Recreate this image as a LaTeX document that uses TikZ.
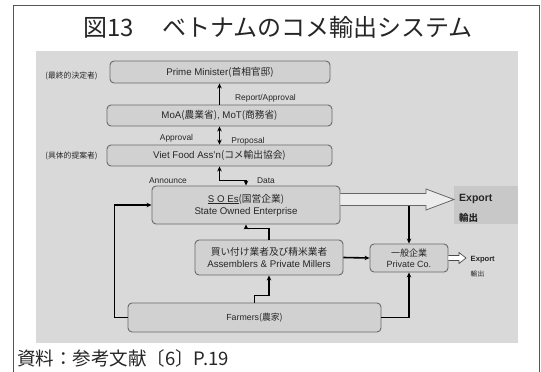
\documentclass[tikz,border=0pt]{standalone}
\usepackage{fontspec}
\setmainfont{Liberation Sans}
\newfontfamily\jp{Noto Sans CJK JP}
\usetikzlibrary{arrows.meta}
\definecolor{panel}{HTML}{D9D9D9}
\definecolor{boxfill}{HTML}{D1D1D1}
\definecolor{boxline}{HTML}{6A6A6A}
\definecolor{expfill}{HTML}{C8C8C8}
\definecolor{txt}{HTML}{262626}
\definecolor{framec}{HTML}{555555}
\tikzset{
  box/.style={draw=boxline, fill=boxfill, rounded corners=4pt, line width=0.9pt,
    inner sep=0pt, align=center, text=txt, font=\fontsize{9.7}{12}\selectfont},
  lbl/.style={inner sep=0pt, text=txt, font=\fontsize{8.4}{9}\selectfont},
  side/.style={inner sep=0pt, text=txt, font=\jp\fontsize{7.8}{9}\selectfont},
  conn/.style={line width=1.6pt, draw=black, -{Stealth[length=5pt,width=4.5pt]}},
  dconn/.style={line width=1.6pt, draw=black, {Stealth[length=5pt,width=4.5pt]}-{Stealth[length=5pt,width=4.5pt]}},
  hollow/.style={draw=gray!80!black, line width=0.8pt, fill=gray!15, line join=miter},
  shollow/.style={draw=black!70, line width=0.7pt, fill=white},
}
\begin{document}
\begin{tikzpicture}[x=1pt,y=-1pt]
\useasboundingbox (0,0) rectangle (541,372);
\fill[white] (0,0) rectangle (541,372);
\draw[framec, line width=1pt] (13,372) -- (13,5) -- (539,5) -- (539,372);
\node[inner sep=0pt, text=txt, font=\jp\fontsize{24}{24}\selectfont] (title) at (278,27) {図13\hspace{4pt}　ベトナムのコメ輸出システム};
\fill[panel] (36,51) rectangle (518,343);

% boxes
\node[box, minimum width=220pt, minimum height=22pt] (pm) at (220,72) {Prime Minister{\jp(首相官邸)}};
\node[box, minimum width=225pt, minimum height=21pt] (moa) at (219.5,115.5) {MoA{\jp(農業省)}, MoT{\jp(商務省)}};
\node[box, minimum width=225pt, minimum height=21pt] (vfa) at (219.5,155.5) {Viet Food Ass'n{\jp(コメ輸出協会)}};
\node[box, minimum width=188pt, minimum height=38pt] (soe) at (246,205) {\underline{S O Es}{\jp(国営企業)}\\State Owned Enterprise};
\node[box, minimum width=148pt, minimum height=35pt] (asm) at (269,257.5) {{\jp 買い付け業者及び精米業者}\\Assemblers \& Private Millers};
\node[box, minimum width=78pt, minimum height=28pt, font=\fontsize{9}{11}\selectfont] (prv) at (409,258) {{\jp 一般企業}\\Private Co.};
\node[box, minimum width=253pt, minimum height=29pt, font=\fontsize{8.8}{11}\selectfont] (fm) at (254.5,317.5) {Farmers{\jp(農家)}};

% side labels
\node[side] (l1) at (71.5,76) {(最終的決定者)};
\node[side] (l2) at (71.5,156) {(具体的提案者)};

% connector labels
\node[lbl] (rep) at (265.5,98.5) {Report/Approval};
\node[lbl] (apr) at (176.5,138) {Approval};
\node[lbl] (pro) at (248,141) {Proposal};
\node[lbl] (ann) at (168,181) {Announce};
\node[lbl] (dat) at (266,181) {Data};

% export box
\node[fill=expfill, minimum width=64pt, minimum height=38pt, inner sep=0pt, anchor=north west] (exb) at (454,186) {};
\node[inner sep=0pt, anchor=west, text=txt, font=\bfseries\fontsize{10.5}{12}\selectfont] (ex1) at (459,199) {Export};
\node[inner sep=0pt, anchor=west, text=txt, font=\jp\bfseries\fontsize{9.5}{12}\selectfont] (ex2) at (459,218) {輸出};
\node[inner sep=0pt, anchor=west, text=txt, font=\bfseries\fontsize{7.6}{9}\selectfont] (ex3) at (470.5,259.5) {Export};
\node[inner sep=0pt, anchor=west, text=txt, font=\jp\fontsize{6.8}{9}\selectfont] (ex4) at (470.5,274) {輸出};

% connectors
\draw[conn] (moa.north) -- (moa.north |- pm.south);
\draw[dconn] (vfa.north) -- (vfa.north |- moa.south);
\draw[dconn] (vfa.south) -- ++(0,14) -| (soe.north);
\draw[conn] (asm.north) -- ++(0,-11) -| (soe.south);
\draw[conn] (fm.north) -- ++(0,-7) -| (asm.south);
\draw[conn] (fm.west) -- ++(-13,0) |- (soe.west);
\draw[conn] (fm.east) -| (prv.south);
\draw[conn] (asm.east) -- (prv.west);

% big hollow arrow to export
\draw[hollow] (soe.east |- 0,193.5) -- (426,193.5) -- (426,189) -- (exb.west |- 0,199.5) -- (426,210) -- (426,205.5) -- (soe.east |- 0,205.5);
\coordinate (bj) at (409,205.5);
\draw[conn] (bj) -- (prv.north);

% small hollow arrow
\draw[shollow] (prv.east |- 0,255.5) -- (459,255.5) -- (459,252.5) -- (466,258) -- (459,263.5) -- (459,260.5) -- (prv.east |- 0,260.5);

% source
\node[inner sep=0pt, anchor=west, text=txt, font=\jp\fontsize{18.5}{19}\selectfont] (src) at (17,358) {資料：参考文献〔6〕P.19};
\end{tikzpicture}
\end{document}
